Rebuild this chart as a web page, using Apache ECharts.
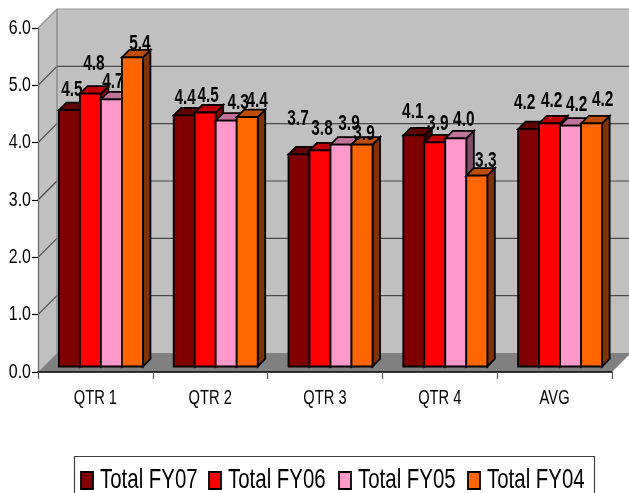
<!DOCTYPE html>
<html>
<head>
<meta charset="utf-8">
<style>
    html, body { margin: 0; padding: 0; background: #fff; overflow: hidden; }
    #chart { width: 629px; height: 493px; }
</style>
</head>
<body>
<div id="chart"></div>
<script src="https://cdn.jsdelivr.net/npm/echarts@6/dist/echarts.min.js"></script>
<script>
const categories = ['QTR 1', 'QTR 2', 'QTR 3', 'QTR 4', 'AVG']
const yTicks = [0, 1, 2, 3, 4, 5, 6]
const yTickLabels = ['0.0', '1.0', '2.0', '3.0', '4.0', '5.0', '6.0']
const seriesNames = ['Total FY07', 'Total FY06', 'Total FY05', 'Total FY04']

// bar heights as measured, printed labels kept apart since the source rounds oddly
const fy07 = [4.47, 4.38, 3.70, 4.03, 4.14]
const fy06 = [4.76, 4.43, 3.77, 3.91, 4.24]
const fy05 = [4.66, 4.29, 3.87, 3.98, 4.20]
const fy04 = [5.39, 4.35, 3.87, 3.33, 4.24]

const fy07Labels = ['4.5', '4.4', '3.7', '4.1', '4.2']
const fy06Labels = ['4.8', '4.5', '3.8', '3.9', '4.2']
const fy05Labels = ['4.7', '4.3', '3.9', '4.0', '4.2']
const fy04Labels = ['5.4', '4.4', '3.9', '3.3', '4.2']

// the source places its labels by hand: shift from bar centre, height above bar top
const labelShiftX = [
    [2.5, 1, -1, -1, -4],
    [3.5, 3, 2, 3, 2],
    [1.5, 12, 8, 8, 6],
    [7.5, 10, 2, 9, 11]
]
const labelRise = [
    [20, 17, 35, 24, 26],
    [30, 17, 21, 18, 22],
    [17, 18, 21, 18, 21],
    [14, 16, 11, 15, 23]
]

const allValues = [fy07, fy06, fy05, fy04]
const allLabels = [fy07Labels, fy06Labels, fy05Labels, fy04Labels]
const faces = [
    { front: '#800000', top: '#600000', side: '#400000' },
    { front: '#ff0000', top: '#bf0000', side: '#800000' },
    { front: '#ff99cc', top: '#bf7399', side: '#804d66' },
    { front: '#ff6600', top: '#bf4d00', side: '#803300' }
]

const wallDepth = 19
const barInset = 5.5
const barDepth = 7.5
const barBorder = 1.8
const textFont = '"Liberation Sans", Arial, sans-serif'

const chart = echarts.init(document.getElementById('chart'))

function poly(points, fill, stroke, lineWidth) {
    return {
        type: 'polygon',
        shape: { points: points },
        style: { fill: fill, stroke: stroke || null, lineWidth: lineWidth || 0 }
    }
}

function line(x1, y1, x2, y2, stroke) {
    return {
        type: 'line',
        shape: { x1: x1, y1: y1, x2: x2, y2: y2 },
        style: { stroke: stroke, lineWidth: 1.2 }
    }
}

// the source text is much narrower than any installed face, so squeeze it
function squeezed(text, x, y, size, scale, align, weight) {
    return {
        type: 'text',
        x: x,
        y: y,
        scaleX: scale,
        style: {
            text: text,
            x: 0,
            y: 0,
            fill: '#000',
            font: (weight || 'normal') + ' ' + size + 'px ' + textFont,
            align: align,
            verticalAlign: 'middle'
        }
    }
}

function renderWalls(params, api) {
    const box = params.coordSys
    const left = box.x
    const right = box.x + box.width
    const top = box.y
    const bottom = box.y + box.height
    const d = wallDepth
    const children = [
        poly([[left, top], [left + d, top - d], [left + d, bottom - d], [left, bottom]], '#c0c0c0'),
        poly([[left + d, top - d], [right + d, top - d], [right + d, bottom - d], [left + d, bottom - d]], '#c0c0c0'),
        poly([[left, bottom], [left + d, bottom - d], [right + d, bottom - d], [right, bottom]], '#808080')
    ]
    yTicks.forEach(t => {
        if (t === 0) return
        const y = api.coord([0, t])[1]
        const color = t === 6 ? '#969696' : '#4a4a4a'
        children.push(line(left, y, left + d, y - d, color))
        children.push(line(left + d, y - d, right + d, y - d, color))
    })
    children.push(line(left + d, top - d, left + d, bottom - d, '#808080'))
    return { type: 'group', children: children }
}

function barBox(api, index, cat, value) {
    const w = api.size([1, 0])[0] * 0.183
    const front = api.coord([cat, value])
    const base = api.coord([cat, 0])
    const x0 = front[0] - 2 * w + barInset + index * w
    return { x0: x0, x1: x0 + w, w: w, yTop: front[1] - barInset, yBase: base[1] - barInset }
}

function makeRenderBar(index) {
    const face = faces[index]
    return function (params, api) {
        const b = barBox(api, index, api.value(0), api.value(1))
        const d = barDepth
        return {
            type: 'group',
            children: [
                poly([[b.x1, b.yTop], [b.x1 + d, b.yTop - d], [b.x1 + d, b.yBase - d], [b.x1, b.yBase]], face.side, '#000', barBorder),
                poly([[b.x0, b.yTop], [b.x0 + d, b.yTop - d], [b.x1 + d, b.yTop - d], [b.x1, b.yTop]], face.top, '#000', barBorder),
                {
                    type: 'rect',
                    shape: { x: b.x0, y: b.yTop, width: b.w, height: b.yBase - b.yTop },
                    style: { fill: face.front, stroke: '#000', lineWidth: barBorder }
                }
            ]
        }
    }
}

function renderValueLabel(params, api) {
    const cat = api.value(0)
    const index = api.value(2)
    const b = barBox(api, index, cat, api.value(1))
    return squeezed(
        allLabels[index][cat],
        b.x0 + b.w / 2 + labelShiftX[index][cat],
        b.yTop - labelRise[index][cat],
        22, 0.7, 'center', 'bold'
    )
}

function renderCategoryLabel(params, api) {
    const p = api.coord([api.value(0), 0])
    return squeezed(categories[api.value(0)], p[0], p[1] + 26, 21, 0.7, 'center')
}

function renderTickLabel(params, api) {
    const p = api.coord([0, api.value(1)])
    return squeezed(yTickLabels[params.dataIndex], params.coordSys.x - 7, p[1], 21, 0.76, 'right')
}

function overlaySeries(data, renderItem) {
    return {
        type: 'custom',
        coordinateSystem: 'cartesian2d',
        silent: true,
        z: 20,
        data: data,
        renderItem: renderItem
    }
}

const valueLabelRows = []
allValues.forEach((values, i) => {
    values.forEach((v, c) => valueLabelRows.push([c, v, i]))
})

// legend box is cut off by the bottom of the picture, same as the source
const legendX = [81, 209, 339, 468]
const legendChildren = [{
    type: 'rect',
    shape: { x: 74.5, y: 456.5, width: 520, height: 60 },
    style: { fill: '#fff', stroke: '#404040', lineWidth: 1.2 }
}]
seriesNames.forEach((name, i) => {
    legendChildren.push({
        type: 'rect',
        shape: { x: legendX[i], y: 472, width: 12, height: 17 },
        style: { fill: faces[i].front, stroke: '#000', lineWidth: barBorder }
    })
    legendChildren.push(squeezed(name, legendX[i] + 19, 480, 28, 0.73, 'left'))
})

const option = {
    animation: false,
    backgroundColor: '#fff',
    grid: { left: 38, top: 28, width: 574, height: 344 },
    graphic: { elements: [{ type: 'group', children: legendChildren }] },
    xAxis: {
        type: 'category',
        data: categories,
        z: 10,
        axisLine: { lineStyle: { color: '#000', width: 1.6 } },
        axisTick: { show: true, length: 7, lineStyle: { color: '#555', width: 1.2 } },
        axisLabel: { show: false },
        splitLine: { show: false }
    },
    yAxis: {
        type: 'value',
        min: 0,
        max: 6,
        interval: 1,
        z: 10,
        axisLine: { show: true, lineStyle: { color: '#666', width: 1.2 } },
        axisTick: { show: true, length: 6, lineStyle: { color: '#000', width: 1.2 } },
        axisLabel: { show: false },
        splitLine: { show: false }
    },
    series: [
        {
            type: 'custom',
            coordinateSystem: 'cartesian2d',
            silent: true,
            z: 1,
            data: [[0, 0]],
            renderItem: renderWalls
        },
        ...allValues.map((values, i) => ({
            name: seriesNames[i],
            type: 'custom',
            coordinateSystem: 'cartesian2d',
            z: 3 + i,
            itemStyle: { color: faces[i].front },
            encode: { x: 0, y: 1 },
            data: values.map((v, c) => [c, v]),
            renderItem: makeRenderBar(i)
        })),
        overlaySeries(valueLabelRows, renderValueLabel),
        overlaySeries(categories.map((c, i) => [i, 0]), renderCategoryLabel),
        overlaySeries(yTicks.map(t => [0, t]), renderTickLabel)
    ]
}

chart.setOption(option)
</script>
</body>
</html>
